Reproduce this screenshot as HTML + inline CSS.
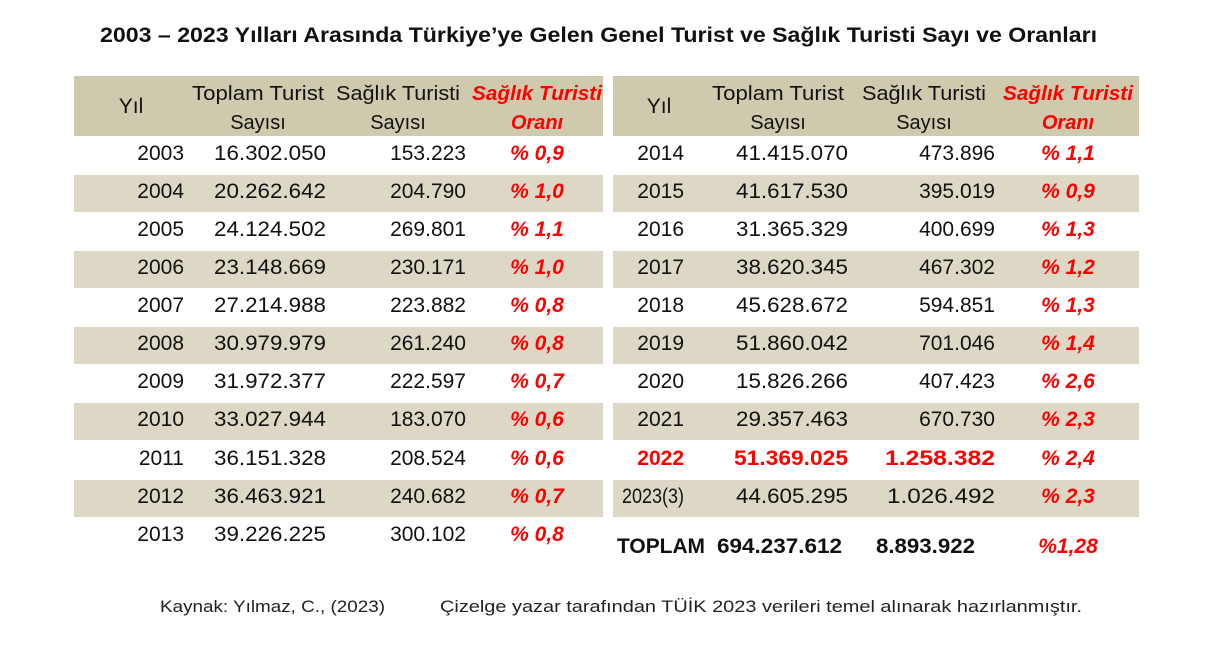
<!DOCTYPE html>
<html><head><meta charset="utf-8"><style>
html,body{margin:0;padding:0;background:#fff;}
svg{display:block;}
text{font-family:"Liberation Sans",sans-serif;}
</style></head><body>
<svg width="1222" height="646" viewBox="0 0 1222 646" xmlns="http://www.w3.org/2000/svg">
<rect width="1222" height="646" fill="#fff"/>
<text x="100" y="42" font-size="21" font-weight="bold" fill="#111" textLength="997" lengthAdjust="spacingAndGlyphs">2003 – 2023 Yılları Arasında Türkiye’ye Gelen Genel Turist ve Sağlık Turisti Sayı ve Oranları</text>
<rect x="74" y="76" width="529" height="60" fill="#cfc9ad"/>
<rect x="613" y="76" width="526" height="60" fill="#cfc9ad"/>
<g fill="#dcd8c5">
<rect x="74" y="175" width="529" height="37"/><rect x="74" y="251" width="529" height="37"/><rect x="74" y="327" width="529" height="37"/><rect x="74" y="403" width="529" height="37"/><rect x="74" y="480" width="529" height="37"/>
<rect x="613" y="175" width="526" height="37"/><rect x="613" y="251" width="526" height="37"/><rect x="613" y="327" width="526" height="37"/><rect x="613" y="403" width="526" height="37"/><rect x="613" y="480" width="526" height="37"/>
</g>
<g font-size="20" fill="#111">
<text x="131" y="113" text-anchor="middle" font-size="21">Yıl</text>
<text x="258" y="100" text-anchor="middle" textLength="132" lengthAdjust="spacingAndGlyphs">Toplam Turist</text>
<text x="258" y="129" text-anchor="middle">Sayısı</text>
<text x="398" y="100" text-anchor="middle" textLength="124" lengthAdjust="spacingAndGlyphs">Sağlık Turisti</text>
<text x="398" y="129" text-anchor="middle">Sayısı</text>
<text x="659" y="113" text-anchor="middle" font-size="21">Yıl</text>
<text x="778" y="100" text-anchor="middle" textLength="132" lengthAdjust="spacingAndGlyphs">Toplam Turist</text>
<text x="778" y="129" text-anchor="middle">Sayısı</text>
<text x="924" y="100" text-anchor="middle" textLength="124" lengthAdjust="spacingAndGlyphs">Sağlık Turisti</text>
<text x="924" y="129" text-anchor="middle">Sayısı</text>
</g>
<g font-size="20" fill="#ff0000" font-weight="bold" font-style="italic">
<text x="537" y="100" text-anchor="middle" textLength="130" lengthAdjust="spacingAndGlyphs">Sağlık Turisti</text>
<text x="537" y="129" text-anchor="middle">Oranı</text>
<text x="1068" y="100" text-anchor="middle" textLength="130" lengthAdjust="spacingAndGlyphs">Sağlık Turisti</text>
<text x="1068" y="129" text-anchor="middle">Oranı</text>
</g>
<g font-size="21" fill="#111" text-anchor="end">
<text x="184" y="160">2003</text><text x="326" y="160" textLength="112" lengthAdjust="spacingAndGlyphs">16.302.050</text><text x="466" y="160">153.223</text>
<text x="184" y="198">2004</text><text x="326" y="198" textLength="112" lengthAdjust="spacingAndGlyphs">20.262.642</text><text x="466" y="198">204.790</text>
<text x="184" y="236">2005</text><text x="326" y="236" textLength="112" lengthAdjust="spacingAndGlyphs">24.124.502</text><text x="466" y="236">269.801</text>
<text x="184" y="274">2006</text><text x="326" y="274" textLength="112" lengthAdjust="spacingAndGlyphs">23.148.669</text><text x="466" y="274">230.171</text>
<text x="184" y="312">2007</text><text x="326" y="312" textLength="112" lengthAdjust="spacingAndGlyphs">27.214.988</text><text x="466" y="312">223.882</text>
<text x="184" y="350">2008</text><text x="326" y="350" textLength="112" lengthAdjust="spacingAndGlyphs">30.979.979</text><text x="466" y="350">261.240</text>
<text x="184" y="388">2009</text><text x="326" y="388" textLength="112" lengthAdjust="spacingAndGlyphs">31.972.377</text><text x="466" y="388">222.597</text>
<text x="184" y="426">2010</text><text x="326" y="426" textLength="112" lengthAdjust="spacingAndGlyphs">33.027.944</text><text x="466" y="426">183.070</text>
<text x="184" y="465">2011</text><text x="326" y="465" textLength="112" lengthAdjust="spacingAndGlyphs">36.151.328</text><text x="466" y="465">208.524</text>
<text x="184" y="503">2012</text><text x="326" y="503" textLength="112" lengthAdjust="spacingAndGlyphs">36.463.921</text><text x="466" y="503">240.682</text>
<text x="184" y="541">2013</text><text x="326" y="541" textLength="112" lengthAdjust="spacingAndGlyphs">39.226.225</text><text x="466" y="541">300.102</text>

<text x="684" y="160">2014</text><text x="848" y="160" textLength="112" lengthAdjust="spacingAndGlyphs">41.415.070</text><text x="995" y="160">473.896</text>
<text x="684" y="198">2015</text><text x="848" y="198" textLength="112" lengthAdjust="spacingAndGlyphs">41.617.530</text><text x="995" y="198">395.019</text>
<text x="684" y="236">2016</text><text x="848" y="236" textLength="112" lengthAdjust="spacingAndGlyphs">31.365.329</text><text x="995" y="236">400.699</text>
<text x="684" y="274">2017</text><text x="848" y="274" textLength="112" lengthAdjust="spacingAndGlyphs">38.620.345</text><text x="995" y="274">467.302</text>
<text x="684" y="312">2018</text><text x="848" y="312" textLength="112" lengthAdjust="spacingAndGlyphs">45.628.672</text><text x="995" y="312">594.851</text>
<text x="684" y="350">2019</text><text x="848" y="350" textLength="112" lengthAdjust="spacingAndGlyphs">51.860.042</text><text x="995" y="350">701.046</text>
<text x="684" y="388">2020</text><text x="848" y="388" textLength="112" lengthAdjust="spacingAndGlyphs">15.826.266</text><text x="995" y="388">407.423</text>
<text x="684" y="426">2021</text><text x="848" y="426" textLength="112" lengthAdjust="spacingAndGlyphs">29.357.463</text><text x="995" y="426">670.730</text>
<text x="684" y="503" textLength="62" lengthAdjust="spacingAndGlyphs">2023(3)</text><text x="848" y="503" textLength="112" lengthAdjust="spacingAndGlyphs">44.605.295</text><text x="995" y="503" textLength="108" lengthAdjust="spacingAndGlyphs">1.026.492</text>
</g>
<g font-size="21" fill="#ff0000" font-weight="bold" text-anchor="end">
<text x="684" y="465">2022</text><text x="848" y="465" textLength="114" lengthAdjust="spacingAndGlyphs">51.369.025</text><text x="995" y="465" textLength="110" lengthAdjust="spacingAndGlyphs">1.258.382</text>
</g>
<g font-size="21" fill="#111" font-weight="bold">
<text x="617" y="553" textLength="88" lengthAdjust="spacingAndGlyphs">TOPLAM</text>
<text x="717" y="553" textLength="125" lengthAdjust="spacingAndGlyphs">694.237.612</text>
<text x="876" y="553" textLength="99" lengthAdjust="spacingAndGlyphs">8.893.922</text>
</g>
<g font-size="21" fill="#ff0000" font-weight="bold" font-style="italic" text-anchor="middle">
<text x="537" y="160">% 0,9</text><text x="537" y="198">% 1,0</text><text x="537" y="236">% 1,1</text><text x="537" y="274">% 1,0</text><text x="537" y="312">% 0,8</text><text x="537" y="350">% 0,8</text><text x="537" y="388">% 0,7</text><text x="537" y="426">% 0,6</text><text x="537" y="465">% 0,6</text><text x="537" y="503">% 0,7</text><text x="537" y="541">% 0,8</text>
<text x="1068" y="160">% 1,1</text><text x="1068" y="198">% 0,9</text><text x="1068" y="236">% 1,3</text><text x="1068" y="274">% 1,2</text><text x="1068" y="312">% 1,3</text><text x="1068" y="350">% 1,4</text><text x="1068" y="388">% 2,6</text><text x="1068" y="426">% 2,3</text><text x="1068" y="465">% 2,4</text><text x="1068" y="503">% 2,3</text><text x="1068" y="553">%1,28</text>
</g>
<g font-size="17" fill="#222">
<text x="160" y="612" textLength="225" lengthAdjust="spacingAndGlyphs">Kaynak: Yılmaz, C., (2023)</text>
<text x="440" y="612" textLength="642" lengthAdjust="spacingAndGlyphs">Çizelge yazar tarafından TÜİK 2023 verileri temel alınarak hazırlanmıştır.</text>
</g>
</svg>
</body></html>
